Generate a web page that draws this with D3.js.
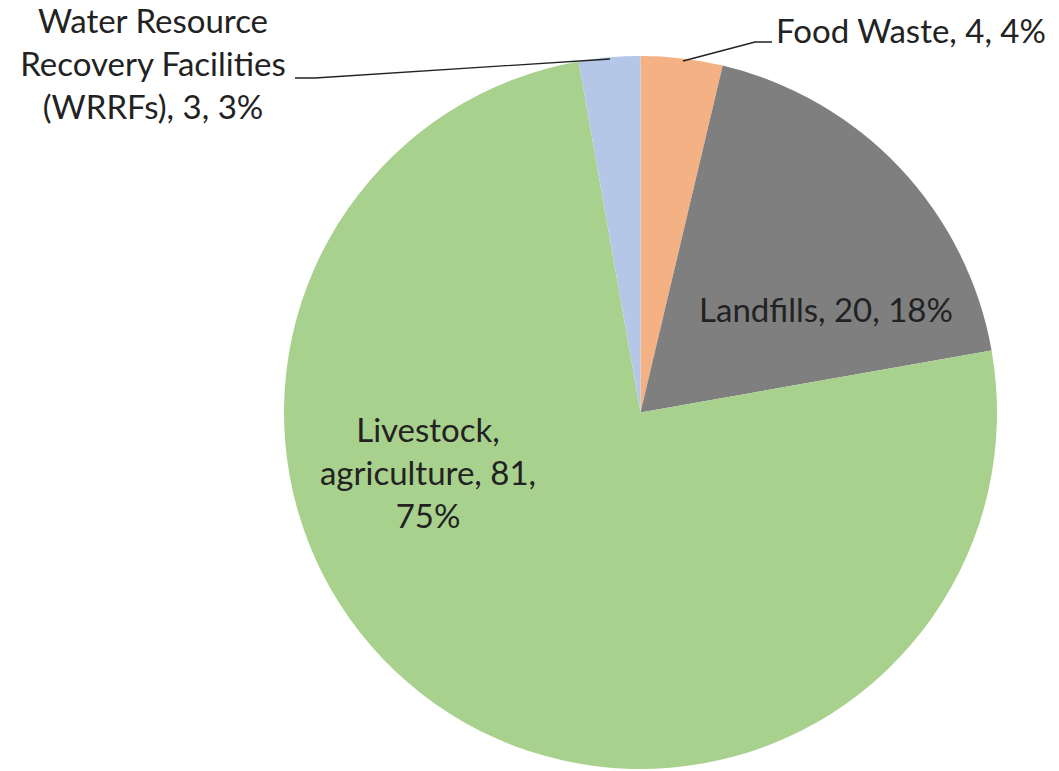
<!DOCTYPE html>
<html>
<head>
<meta charset="utf-8">
<script src="https://cdn.jsdelivr.net/npm/d3@7"></script>
<style>
  html, body { margin: 0; padding: 0; background: #fff; }
  svg { display: block; }
  text { font-family: Lato, "Open Sans", sans-serif; fill: #222; }
</style>
</head>
<body>
<svg id="chart" width="1059" height="771"></svg>
<script>
// ---- data ----
const categories = ["Food Waste", "Landfills", "Livestock, agriculture", "Water Resource Recovery Facilities (WRRFs)"];
const values = [4, 20, 81, 3];
const percentLabels = ["4%", "18%", "75%", "3%"];
const colors = ["#F4B183", "#7F7F7F", "#A9D18E", "#B4C7E7"];

// ---- layout ----
const W = 1059, H = 771;
const cx = 640.5, cy = 412.5, R = 356.5;
const fontSize = 33;
const lineH = 43;

const labelLayout = [
  { x: 776, y: 43, anchor: "start", leader: [[683, 61], [755, 42], [772, 42]] },
  { x: 826, y: 322, anchor: "middle", leader: null },
  { x: 428, y: 442, anchor: "middle", leader: null },
  { x: 153, y: 33, anchor: "middle", leader: [[610, 59], [315, 78], [295, 78]] }
];
const labelLines = [
  ["Food Waste, 4, 4%"],
  ["Landfills, 20, 18%"],
  ["Livestock,", "agriculture, 81,", "75%"],
  ["Water Resource", "Recovery Facilities", "(WRRFs), 3, 3%"]
];

const svg = d3.select("#chart");
const data = categories.map((c, i) => ({ cat: c, value: values[i], pct: percentLabels[i], color: colors[i], i }));

const pie = d3.pie().sort(null).value(d => d.value);
const arc = d3.arc().innerRadius(0).outerRadius(R);

const g = svg.append("g").attr("transform", `translate(${cx},${cy})`);
g.selectAll("path.slice")
  .data(pie(data))
  .join("path")
  .attr("class", "slice")
  .attr("d", arc)
  .attr("fill", d => d.data.color)
  .attr("stroke", "none");

const line = d3.line();
labelLayout.forEach(L => {
  if (L.leader) {
    svg.append("path")
      .attr("d", line(L.leader))
      .attr("fill", "none")
      .attr("stroke", "#222")
      .attr("stroke-width", 1.3);
  }
});

labelLayout.forEach((L, i) => {
  const t = svg.append("text")
    .attr("text-anchor", L.anchor)
    .attr("font-size", fontSize);
  labelLines[i].forEach((s, k) => {
    t.append("tspan").attr("x", L.x).attr("y", L.y + k * lineH).text(s);
  });
});
</script>
</body>
</html>
